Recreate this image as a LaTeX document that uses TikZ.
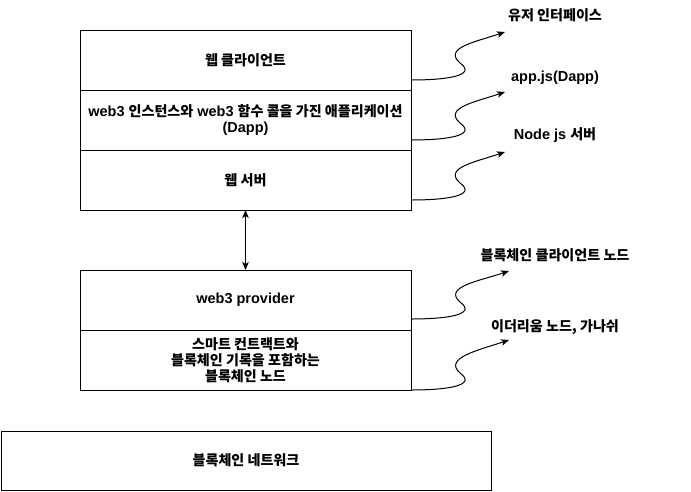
\documentclass[tikz,border=0pt]{standalone}
\usepackage{fontspec}
\setmainfont{Liberation Sans}
\newfontfamily\krfont{Noto Sans CJK KR}[Scale=0.97]
\usetikzlibrary{arrows.meta,positioning}
\newcommand{\kor}[1]{{\krfont #1}}

\begin{document}
\begin{tikzpicture}[x=1pt,y=-1pt,line width=1pt,>={Stealth[length=8pt,width=6.5pt,inset=2pt]},
  layer/.style={draw,rectangle,minimum width=331pt,minimum height=60pt,inner sep=0pt,outer sep=0pt,
    align=center,font=\bfseries\fontsize{14.5}{16.5}\selectfont},
  tag/.style={inner sep=0pt,font=\bfseries\fontsize{14.5}{16.5}\selectfont},
  wave/.style={->,to path={.. controls +(34,0) and +(18,13) .. ++(49,-17)
    .. controls +(-17,-15) and +(-30,10) .. (\tikztotarget) \tikztonodes}}]
\fill[white] (0,0) rectangle (691,491);
\useasboundingbox (0,0) rectangle (691,491);
% application stack and its provider
\node[layer] (client) at (245.5,60) {\kor{웹 클라이언트}};
\node[layer,below=0pt of client] (dapp) {web3 \kor{인스턴스와} web3 \kor{함수 콜을 가진 애플리케이션}\\(Dapp)};
\node[layer,below=0pt of dapp] (server) {\kor{웹 서버}};
\node[layer] (provider) at (245.5,300) {web3 provider};
\node[layer,below=0pt of provider,font=\bfseries\fontsize{14.5}{16}\selectfont\krfont] (bcnode) {스마트 컨트랙트와\\블록체인 기록을 포함하는\\블록체인 노드};
\node[layer,minimum width=490pt,minimum height=59pt,font=\bfseries\fontsize{14.5}{16}\selectfont\krfont] (network) at (246,460.5) {블록체인 네트워크};
\draw[<->] (server.south) -- (provider.north);
% side notes
\node[tag] (ui) at (555,15) {\kor{유저 인터페이스}};
\node[tag] (appjs) at (555,78) {app.js(Dapp)};
\node[tag] (nodejs) at (555,135) {Node js \kor{서버}};
\node[tag] (bcclient) at (555,255) {\kor{블록체인 클라이언트 노드}};
\node[tag] (ethnode) at (555,327) {\kor{이더리움 노드, 가나쉬}};
\coordinate (uiTip) at (505,32);
\coordinate (appjsTip) at (505,92);
\coordinate (nodejsTip) at (505,152);
\coordinate (bcclientTip) at (509,271);
\coordinate (ethnodeTip) at (509,340);
\draw[wave] ([yshift=10pt]client.south east) to (uiTip);
\draw[wave] ([yshift=10pt]dapp.south east) to (appjsTip);
\draw[wave] ([yshift=10pt]server.south east) to (nodejsTip);
\draw[wave] ([yshift=11pt]provider.south east) to (bcclientTip);
\draw[wave] (bcnode.south east) to (ethnodeTip);
\end{tikzpicture}
\end{document}
